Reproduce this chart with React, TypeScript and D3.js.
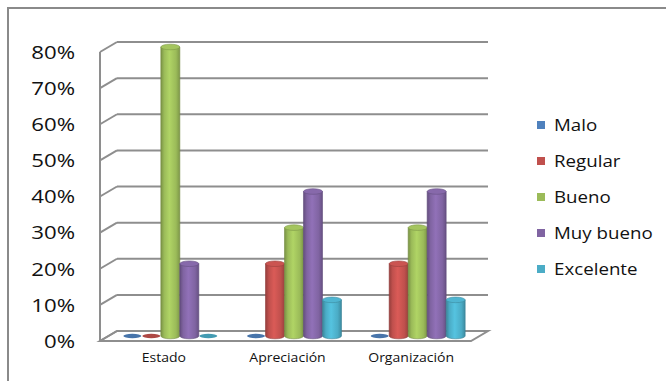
import React from "react";
import * as d3 from "d3";

const categories = ["Estado", "Apreciación", "Organización"];
const seriesNames = ["Malo", "Regular", "Bueno", "Muy bueno", "Excelente"];
const seriesColors = ["#4F81BD", "#C0504D", "#9BBB59", "#8064A2", "#4BACC6"];
// values per series, in category order
const malo = [0, 0, 0];
const regular = [0, 0.2, 0.2];
const bueno = [0.8, 0.3, 0.3];
const muyBueno = [0.2, 0.4, 0.4];
const excelente = [0, 0.1, 0.1];
const seriesValues = [malo, regular, bueno, muyBueno, excelente];
const yTicks = [0, 0.1, 0.2, 0.3, 0.4, 0.5, 0.6, 0.7, 0.8];

const W = 666;
const H = 381;
const plotLeft = 100;
const plotRight = 471;
const plotTop = 52;
const plotBottom = 341;
const DX = 17;
const DY = -10;
const SX = 1.17;

export default function App() {
  const y = d3.scaleLinear().domain([0, 0.8]).range([plotBottom, plotTop]);
  const xCat = d3.scaleBand<string>().domain(categories).range([plotLeft, plotRight]).padding(0);
  const xSer = d3
    .scaleBand<string>()
    .domain(seriesNames)
    .range([0, xCat.bandwidth()])
    .paddingInner(0)
    .paddingOuter(0.755);
  const fmt = d3.format(".0%");
  const grid = "#8e8e8e";
  const rx = xSer.bandwidth() / 2;
  const ry = 2.8;

  return (
    <svg
      width={W}
      height={H}
      style={{ position: "absolute", left: 0, top: 0, background: "#fff" }}
      fontFamily="'Open Sans', sans-serif"
    >
      <defs>
        {seriesColors.map((c, i) => {
          const col = d3.color(c)!;
          return (
            <linearGradient id={`g${i}`} key={i} x1="0" x2="1" y1="0" y2="0">
              <stop offset="0%" stopColor={col.darker(0.7).formatHex()} />
              <stop offset="18%" stopColor={c} />
              <stop offset="45%" stopColor={col.brighter(0.35).formatHex()} />
              <stop offset="80%" stopColor={c} />
              <stop offset="100%" stopColor={col.darker(0.6).formatHex()} />
            </linearGradient>
          );
        })}
      </defs>
      <rect x={8} y={8} width={W + 20} height={H + 20} fill="#fff" stroke="#8a8a8a" strokeWidth={2} />

      {/* walls and gridlines */}
      {yTicks.map((t) => {
        const yf = y(t);
        return (
          <g key={t}>
            <line x1={plotLeft} y1={yf} x2={plotLeft + DX} y2={yf + DY} stroke={grid} strokeWidth={2} />
            <line x1={plotLeft + DX} y1={yf + DY} x2={plotRight + DX} y2={yf + DY} stroke={grid} strokeWidth={2} />
          </g>
        );
      })}
      <line x1={plotLeft} y1={y(0.8)} x2={plotLeft} y2={y(0)} stroke={grid} strokeWidth={2} />
      <polygon
        points={`${plotLeft},${y(0)} ${plotRight},${y(0)} ${plotRight + DX},${y(0) + DY} ${plotLeft + DX},${y(0) + DY}`}
        fill="none"
        stroke={grid}
        strokeWidth={2}
      />

      {/* y labels */}
      {yTicks.map((t) => (
        <g key={"l" + t} transform={`translate(75,${y(t)}) scale(${SX},1)`}>
          <text x={0} y={0} dy="0.36em" textAnchor="end" fontSize={19} fill="#111">
            {fmt(t)}
          </text>
        </g>
      ))}

      {/* bars */}
      {categories.map((cat, ci) =>
        seriesNames.map((s, si) => {
          const v = seriesValues[si][ci];
          const x0 = (xCat(cat) as number) + (xSer(s) as number) + DX / 2;
          const x1 = x0 + xSer.bandwidth();
          const cx = (x0 + x1) / 2;
          const yb = y(0) + DY / 2;
          const yt = y(v) + DY / 2;
          const col = d3.color(seriesColors[si])!;
          if (v === 0) {
            return (
              <ellipse key={cat + s} cx={cx} cy={yb} rx={rx - 0.5} ry={2.2} fill={col.darker(0.3).formatHex()} />
            );
          }
          return (
            <g key={cat + s}>
              <path
                d={`M${x0},${yt} L${x0},${yb} A${rx},${ry} 0 0 0 ${x1},${yb} L${x1},${yt} Z`}
                fill={`url(#g${si})`}
                stroke={col.darker(0.8).formatHex()}
                strokeWidth={0.6}
              />
              <ellipse
                cx={cx}
                cy={yt}
                rx={rx}
                ry={ry}
                fill={col.brighter(0.15).formatHex()}
                stroke={col.darker(0.6).formatHex()}
                strokeWidth={0.6}
              />
            </g>
          );
        })
      )}

      {/* category labels */}
      {categories.map((cat) => (
        <g key={"c" + cat} transform={`translate(${(xCat(cat) as number) + xCat.bandwidth() / 2 + 2},358) scale(${SX},1)`}>
          <text x={0} y={0} dy="0.36em" textAnchor="middle" fontSize={12} fill="#111">
            {cat}
          </text>
        </g>
      ))}

      {/* legend */}
      {seriesNames.map((s, i) => {
        const ly = 125 + i * 36;
        return (
          <g key={"lg" + s}>
            <rect x={537} y={ly - 4} width={8} height={8} fill={seriesColors[i]} />
            <g transform={`translate(554,${ly}) scale(${SX},1)`}>
              <text x={0} y={0} dy="0.36em" fontSize={16} fill="#111">
                {s}
              </text>
            </g>
          </g>
        );
      })}
    </svg>
  );
}
